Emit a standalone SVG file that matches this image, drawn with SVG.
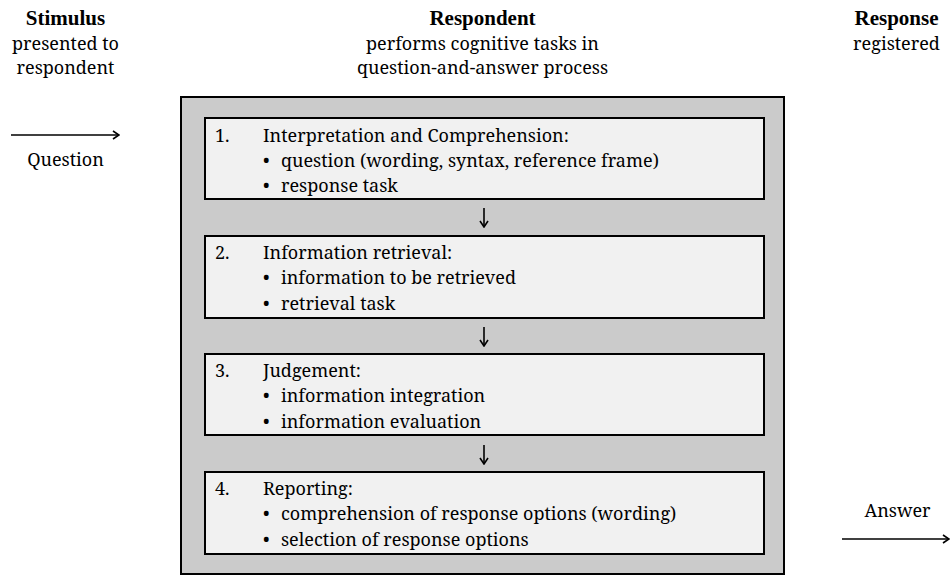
<svg xmlns="http://www.w3.org/2000/svg" width="951" height="576" viewBox="0 0 951 576">
  <style>
    .outer { fill: #cbcbcb; stroke: #000; stroke-width: 2; }
    .step { fill: #f1f1f1; stroke: #000; stroke-width: 2; }
    .arrow { fill: none; stroke: #000; stroke-width: 1.6; marker-end: url(#head); }
  </style>
  <defs>
    <marker id="head" viewBox="0 0 10 10" refX="9" refY="5" markerWidth="10" markerHeight="10" markerUnits="userSpaceOnUse" orient="auto">
      <path d="M3,1 L9,5 L3,9" fill="none" stroke="#000" stroke-width="1.6"/>
    </marker>
  </defs>
  <rect width="951" height="576" fill="#fff"/>

  <!-- respondent container -->
  <g id="respondent">
    <rect class="outer" x="181" y="97" width="603" height="477"/>
  </g>

  <!-- body text: Noto Serif at 18px keeps the Times-like line widths -->
  <g font-family="Noto Serif, serif" font-size="18" fill="#000">
    <g id="step1">
      <rect class="step" x="205" y="118" width="559" height="81"/>
      <text x="215" y="141.5">1.</text>
      <text x="263" y="141.5">Interpretation and Comprehension:</text>
      <text x="263" y="166.5">•</text><text x="281" y="166.5">question (wording, syntax, reference frame)</text>
      <text x="263" y="191.5">•</text><text x="281" y="191.5">response task</text>
    </g>
    <g id="step2">
      <rect class="step" x="205" y="236" width="559" height="82"/>
      <text x="215" y="259">2.</text>
      <text x="263" y="259">Information retrieval:</text>
      <text x="263" y="284.3">•</text><text x="281" y="284.3">information to be retrieved</text>
      <text x="263" y="309.6">•</text><text x="281" y="309.6">retrieval task</text>
    </g>
    <g id="step3">
      <rect class="step" x="205" y="354" width="559" height="81"/>
      <text x="215" y="377">3.</text>
      <text x="263" y="377">Judgement:</text>
      <text x="263" y="402.3">•</text><text x="281" y="402.3">information integration</text>
      <text x="263" y="427.6">•</text><text x="281" y="427.6">information evaluation</text>
    </g>
    <g id="step4">
      <rect class="step" x="205" y="472" width="559" height="82"/>
      <text x="215" y="495">4.</text>
      <text x="263" y="495">Reporting:</text>
      <text x="263" y="520.3">•</text><text x="281" y="520.3">comprehension of response options (wording)</text>
      <text x="263" y="545.6">•</text><text x="281" y="545.6">selection of response options</text>
    </g>

    <!-- column headings and edge labels -->
    <g text-anchor="middle">
      <g id="head-stimulus">
        <text x="65.5" y="25" font-family="Liberation Serif, serif" font-size="21" font-weight="bold">Stimulus</text>
        <text x="65.5" y="49.5">presented to</text>
        <text x="65.5" y="74">respondent</text>
      </g>
      <g id="head-respondent">
        <text x="482.5" y="25" font-family="Liberation Serif, serif" font-size="21" font-weight="bold">Respondent</text>
        <text x="482.5" y="49.5">performs cognitive tasks in</text>
        <text x="482.5" y="74">question-and-answer process</text>
      </g>
      <g id="head-response">
        <text x="896.5" y="25" font-family="Liberation Serif, serif" font-size="21" font-weight="bold">Response</text>
        <text x="896.5" y="49.5">registered</text>
      </g>
      <g id="label-question"><text x="65.5" y="166">Question</text></g>
      <g id="label-answer"><text x="897.5" y="517">Answer</text></g>
    </g>
  </g>

  <!-- connectors -->
  <g id="connectors">
    <path class="arrow" d="M11,135 H119"/>
    <path class="arrow" d="M484,208 V227"/>
    <path class="arrow" d="M484,327 V346"/>
    <path class="arrow" d="M484,445 V464"/>
    <path class="arrow" d="M842,539 H949"/>
  </g>
</svg>
